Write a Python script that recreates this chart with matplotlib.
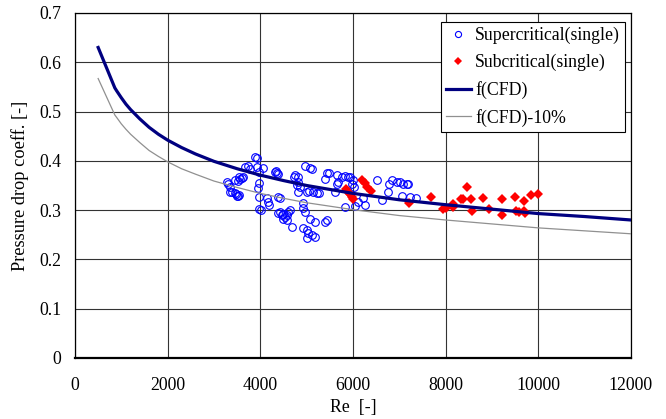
import matplotlib
matplotlib.use('Agg')
import matplotlib.pyplot as plt

plt.rcParams['font.family'] = ['Liberation Serif', 'DejaVu Serif']

# f(CFD) curve and the -10% curve
re_cfd = [500, 860, 900, 1000, 1100, 1200, 1400, 1600, 1800, 2000, 2300, 2600,
          3000, 3500, 4000, 4500, 5000, 6000, 7000, 8000, 9000, 10000, 11000, 12000]
f_cfd = [0.630, 0.548, 0.542, 0.528, 0.515, 0.504, 0.485, 0.468, 0.454, 0.442,
         0.427, 0.414, 0.399, 0.384, 0.371, 0.360, 0.350, 0.334, 0.321, 0.311,
         0.302, 0.293, 0.287, 0.280]
f_cfd_10 = [0.567, 0.493, 0.488, 0.475, 0.464, 0.454, 0.437, 0.421, 0.409, 0.398,
            0.384, 0.373, 0.359, 0.346, 0.334, 0.324, 0.315, 0.301, 0.289, 0.280,
            0.272, 0.264, 0.258, 0.252]

# supercritical (single) - open blue circles
re_super = [3273, 3308, 3344, 3344, 3452, 3502, 3545, 3452, 3545, 3617,
            3668, 3739, 3776, 3883, 3920, 3920, 3977, 4063, 3963, 3963,
            4135, 4171, 4193, 3977, 4013, 4315, 4351, 4387, 4387, 4423,
            4494, 4459, 4531, 4567, 4602, 4638, 4494, 4567, 4387, 4423,
            4675, 4747, 4819, 4819, 4783, 4855, 4819, 4725, 4962, 5070,
            5107, 4999, 5056, 5142, 5214, 5272, 4927, 4927, 4962, 5070,
            5178, 4927, 4999, 5034, 5106, 5178, 4999, 5394, 5444, 5430,
            5487, 5394, 5646, 5681, 5754, 5646, 5610, 5825, 5897, 5825,
            5933, 6005, 5970, 6020, 6041, 6113, 6220, 6257, 6509, 6617,
            6760, 6782, 6833, 6940, 7012, 7084, 7156, 7192, 7048, 7228,
            7357, 3394, 3466, 3510, 3610, 3567, 3524, 3955, 4330]
cd_super = [0.358, 0.354, 0.347, 0.337, 0.334, 0.329, 0.331, 0.361, 0.367, 0.368,
            0.388, 0.389, 0.383, 0.408, 0.405, 0.387, 0.378, 0.385, 0.356, 0.327,
            0.324, 0.317, 0.310, 0.302, 0.300, 0.378, 0.376, 0.373, 0.326, 0.297,
            0.293, 0.290, 0.287, 0.290, 0.297, 0.300, 0.283, 0.280, 0.295, 0.324,
            0.266, 0.371, 0.368, 0.358, 0.351, 0.347, 0.337, 0.368, 0.389, 0.385,
            0.383, 0.337, 0.339, 0.337, 0.335, 0.334, 0.314, 0.304, 0.297, 0.283,
            0.276, 0.263, 0.260, 0.253, 0.250, 0.245, 0.243, 0.276, 0.280, 0.375,
            0.376, 0.364, 0.371, 0.358, 0.368, 0.354, 0.337, 0.369, 0.368, 0.306,
            0.368, 0.361, 0.354, 0.347, 0.309, 0.317, 0.324, 0.310, 0.361, 0.320,
            0.337, 0.354, 0.361, 0.358, 0.358, 0.354, 0.354, 0.353, 0.329, 0.326,
            0.325, 0.337, 0.332, 0.329, 0.366, 0.363, 0.359, 0.344, 0.379]

# subcritical (single) - red diamonds
re_sub = [5860, 5900, 5940, 5970, 6005, 6185, 6250, 6310, 6380, 7213,
          7681, 7947, 8005, 8149, 8163, 8322, 8380, 8452, 8538, 8559,
          8796, 8940, 9212, 9212, 9493, 9529, 9587, 9687, 9687, 9709,
          9853, 9996]
cd_sub = [0.342, 0.337, 0.332, 0.327, 0.322, 0.362, 0.355, 0.347, 0.339, 0.314,
          0.327, 0.302, 0.304, 0.312, 0.307, 0.323, 0.322, 0.346, 0.323, 0.299,
          0.325, 0.302, 0.322, 0.290, 0.327, 0.299, 0.297, 0.319, 0.299, 0.295,
          0.331, 0.333]

fs = 12.8

fig = plt.figure(figsize=(6.66, 4.19), dpi=100)
ax = fig.add_axes([0.1126, 0.1456, 0.8348, 0.8234])

ax.plot(re_super, cd_super, 'o', mfc='none', mec='#0000ff', mew=0.8, ms=5.5,
        label='Supercritical(single)', zorder=3)
ax.plot(re_sub, cd_sub, 'D', color='#ff0000', ms=5.0, mew=0,
        label='Subcritical(single)', zorder=4)
ax.plot(re_cfd, f_cfd, color='#000080', lw=2.3, label='f(CFD)', zorder=5)
ax.plot(re_cfd, f_cfd_10, color='#909090', lw=0.9, label='f(CFD)-10%', zorder=5)

ax.set_xlim(0, 12000)
ax.set_ylim(0, 0.7)
ax.set_xticks(range(0, 12001, 2000))
ax.set_yticks([0, 0.1, 0.2, 0.3, 0.4, 0.5, 0.6, 0.7])
ax.set_yticklabels(['0', '0.1', '0.2', '0.3', '0.4', '0.5', '0.6', '0.7'])
ax.grid(True, color='#333333', lw=0.8)
ax.set_axisbelow(True)
ax.tick_params(length=0, labelsize=fs)
ax.tick_params(axis='x', pad=14)
ax.tick_params(axis='y', pad=10)
for s in ax.spines.values():
    s.set_color('black')
    s.set_linewidth(0.9)
ax.spines['bottom'].set_linewidth(1.6)

ax.set_xlabel('Re  [-]', fontsize=fs, labelpad=3)
ax.set_ylabel('Pressure drop coeff. [-]', fontsize=13.2, labelpad=7)

leg = ax.legend(loc='upper right', bbox_to_anchor=(0.99, 0.975), fontsize=fs,
                frameon=True, fancybox=False, edgecolor='black', framealpha=1,
                handlelength=1.4, handletextpad=0.25, borderpad=0.3,
                labelspacing=0.55, borderaxespad=0, markerscale=0.8)
leg.get_frame().set_linewidth(0.8)

fig.savefig('out.png', dpi=100)
